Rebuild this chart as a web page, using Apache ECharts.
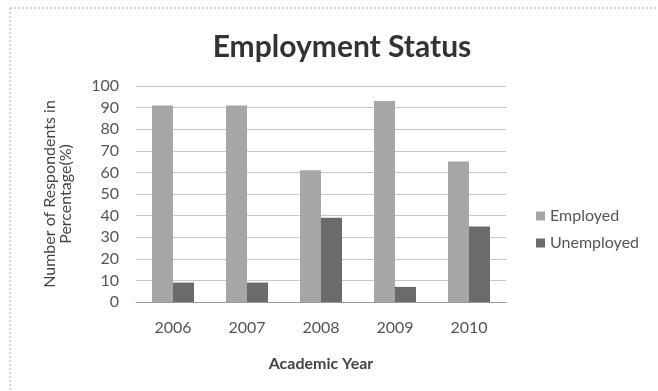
<!DOCTYPE html>
<html>
<head>
<meta charset="utf-8">
<script src="https://cdn.jsdelivr.net/npm/echarts@6/dist/echarts.min.js"></script>
<style>html,body{margin:0;padding:0;background:#fff;}#c{width:658px;height:391px;}</style>
</head>
<body>
<div id="c"></div>
<script>
const years = ['2006', '2007', '2008', '2009', '2010'];
const employed = [91, 91, 61, 93, 65];
const unemployed = [9, 9, 39, 7, 35];
const yTicks = { min: 0, max: 100, interval: 10 };

const chart = echarts.init(document.getElementById('c'));
const font = 'Lato, "Open Sans", sans-serif';
chart.setOption({
  animation: false,
  backgroundColor: '#fff',
  textStyle: { fontFamily: font },
  title: {
    text: 'Employment Status',
    left: 337, top: 27, textAlign: 'center',
    textStyle: { fontSize: 30, fontWeight: 'bold', color: '#333', fontFamily: font }
  },
  graphic: [
    { type: 'line', shape: { x1: 10, y1: 8, x2: 658, y2: 8 }, style: { stroke: '#aaa', lineWidth: 1, lineDash: [2, 2] } },
    { type: 'line', shape: { x1: 10, y1: 8, x2: 10, y2: 391 }, style: { stroke: '#aaa', lineWidth: 1, lineDash: [2, 2] } }
  ],
  legend: {
    orient: 'vertical', left: 531, top: 203, itemGap: 11,
    itemWidth: 9, itemHeight: 9, icon: 'rect',
    textStyle: { fontSize: 16, color: '#555', fontFamily: font },
    data: ['Employed', 'Unemployed']
  },
  grid: { left: 136, right: 152, top: 86, bottom: 89 },
  xAxis: {
    type: 'category', data: years,
    name: 'Academic Year', nameLocation: 'middle', nameGap: 54,
    nameTextStyle: { fontSize: 16, fontWeight: 'bold', color: '#444' },
    axisLine: { lineStyle: { color: '#999' } },
    axisTick: { show: false },
    axisLabel: { fontSize: 16, color: '#555', margin: 18 }
  },
  yAxis: {
    type: 'value', min: yTicks.min, max: yTicks.max, interval: yTicks.interval,
    name: 'Number of Respondents in\nPercentage(%)', nameLocation: 'middle', nameGap: 62,
    nameTextStyle: { fontSize: 16, color: '#444', lineHeight: 16 },
    axisLine: { show: false }, axisTick: { show: false },
    axisLabel: { fontSize: 16, color: '#555', margin: 17 },
    splitLine: { lineStyle: { color: '#c8c8c8' } }
  },
  series: [
    { name: 'Employed', type: 'bar', data: employed, barWidth: 21, barGap: '0%', itemStyle: { color: '#a6a6a6' } },
    { name: 'Unemployed', type: 'bar', data: unemployed, barWidth: 21, itemStyle: { color: '#6b6b6b' } }
  ]
});
</script>
</body>
</html>
